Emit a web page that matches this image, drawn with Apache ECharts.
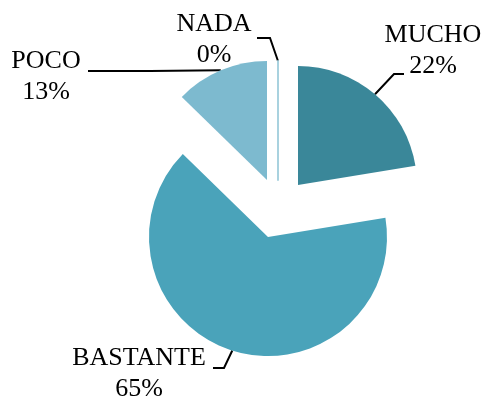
<!DOCTYPE html>
<html>
<head>
<meta charset="utf-8">
<script src="https://cdn.jsdelivr.net/npm/echarts@6/dist/echarts.min.js"></script>
<style>
html,body{margin:0;padding:0;background:#fff;}
#main{width:485px;height:403px;}
</style>
</head>
<body>
<div id="main"></div>
<script>
// Data
const categories = ['MUCHO', 'BASTANTE', 'POCO', 'NADA'];
const values = [22.4, 64.9, 12.7, 0];

// Styles / layout (not data)
const colors = ['#3a8799', '#4aa3ba', '#7dbacf', '#a9d2df'];
const centers = [[298, 185], [268, 237], [267, 180], [278, 180]];
const labelPos = [
  {x: 433, y: 51, elbow: [394, 74], end: [404, 74]},
  {x: 139, y: 374, elbow: [224, 368], end: [213, 368]},
  {x: 46, y: 77, elbow: [150, 71], end: [88, 71]},
  {x: 214, y: 40, elbow: [270, 38], end: [257, 38]}
];

const chart = echarts.init(document.getElementById('main'), null, {renderer: 'canvas'});
const total = values.reduce((a, b) => a + b, 0);

const series = categories.map((cat, k) => ({
  type: 'pie',
  center: centers[k],
  radius: 119,
  startAngle: 90,
  clockwise: true,
  avoidLabelOverlap: false,
  animation: false,
  silent: true,
  minShowLabelAngle: 0,
  data: categories.map((name, i) => ({
    name: name,
    value: values[i],
    itemStyle: i === k
      ? {color: colors[i], borderColor: values[i] === 0 ? colors[i] : 'transparent', borderWidth: values[i] === 0 ? 2 : 0}
      : {color: 'transparent', borderWidth: 0},
    label: {show: i === k},
    labelLine: {show: i === k}
  })),
  label: {
    position: 'outside',
    formatter: p => p.name + '\n' + Math.round(p.value / total * 100) + '%',
    fontFamily: "'Liberation Serif', 'Times New Roman', Times, serif",
    fontSize: 26,
    lineHeight: 31,
    color: '#000',
    align: 'center'
  },
  labelLine: {
    lineStyle: {color: '#000', width: 2},
    length: 20,
    length2: 10,
    smooth: false
  },
  labelLayout: function (params) {
    if (params.dataIndex !== k) return {};
    const lp = labelPos[k];
    const p0 = params.labelLinePoints ? params.labelLinePoints[0] : lp.elbow;
    return {
      x: lp.x,
      y: lp.y,
      align: 'center',
      verticalAlign: 'middle',
      labelLinePoints: [p0, lp.elbow, lp.end]
    };
  }
}));

chart.setOption({
  backgroundColor: '#fff',
  series: series
});
</script>
</body>
</html>
